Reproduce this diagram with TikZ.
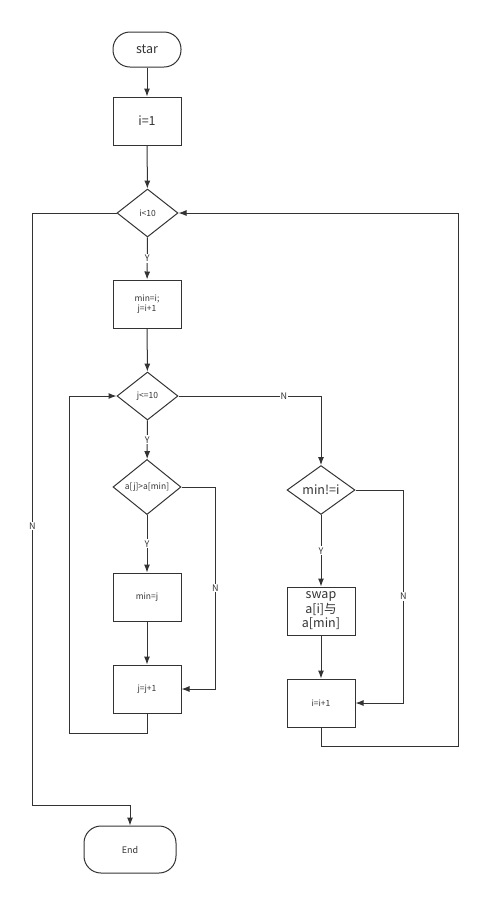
\documentclass[tikz,border=0pt]{standalone}
\usepackage{fontspec}
\setmainfont{Noto Sans CJK SC}
\usetikzlibrary{shapes.geometric,arrows.meta}
\definecolor{ln}{HTML}{333333}
\begin{document}
\begin{tikzpicture}[x=1pt,y=-1pt,line width=1pt,draw=ln,text=ln,
    box/.style={draw,minimum width=68pt,minimum height=48pt,inner sep=1pt,align=center,font=\fontsize{8.5}{10.5}\selectfont},
    term/.style={draw,rounded corners=17pt,minimum height=35pt,inner sep=1pt,font=\fontsize{9}{10}\selectfont},
    test/.style={draw,diamond,minimum width=61pt,minimum height=48pt,inner sep=0.5pt,font=\fontsize{8.5}{10}\selectfont},
    big/.style={font=\fontsize{12.5}{14}\selectfont},
    yn/.style={fill=white,inner sep=1pt,font=\fontsize{9}{9}\selectfont},
    arr/.style={-{Latex[length=8pt,width=6pt]}}]
    \useasboundingbox (0,0) rectangle (500,914);

    % main column
    \node[term,big,minimum width=68pt] (star) at (147,49.5) {star};
    \node[box,big] (init) at (147,121) {i=1};
    \node[test] (outer) at (147.5,213) {i<10};
    \node[box] (setmin) at (147,304) {min=i;\\j=i+1};
    \node[test] (inner) at (147.5,396) {j<=10};
    \node[test,minimum width=68pt] (cmp) at (147,487) {a[j]>a[min]};
    \node[box] (newmin) at (147,597) {min=j};
    \node[box] (incj) at (147,689) {j=j+1};

    % right column
    \node[test,big,minimum width=68pt] (minne) at (321,490) {min!=i};
    \node[box,inner sep=0pt,font=\fontsize{12.5}{14.5}\selectfont] (swap) at (321,611) {swap\\a[i]与\\a[min]};
    \node[box] (inci) at (321,703) {i=i+1};

    \node[term,minimum width=92pt,minimum height=47pt] (fin) at (130,849.5) {End};

    % straight arrows
    \draw[arr] (star) -- (init);
    \draw[arr] (init) -- (outer);
    \draw[arr] (outer) -- node[yn]{Y} (setmin);
    \draw[arr] (setmin) -- (inner);
    \draw[arr] (inner) -- node[yn]{Y} (cmp);
    \draw[arr] (cmp) -- node[yn]{Y} (newmin);
    \draw[arr] (newmin) -- (incj);
    \draw[arr] (minne) -- node[yn]{Y} (swap);
    \draw[arr] (swap) -- (inci);

    % branches and loops
    \draw[arr] (cmp.east) -- ++(34,0) |- node[pos=0.25,yn]{N} (incj.east);
    \draw[arr] (incj.south) -- ++(0,20) -| ([xshift=-47pt]inner.west) -- (inner.west);
    \draw[arr] (inner.east) -| node[pos=0.37,yn]{N} (minne.north);
    \draw[arr] (minne.east) -- ++(48,0) |- node[pos=0.25,yn]{N} (inci.east);
    \draw[arr] (inci.south) -- ++(0,19) -| ([xshift=280pt]outer.east) -- (outer.east);
    \draw[arr] (outer.west) -- ++(-84,0) |- node[pos=0.264,yn]{N} ([yshift=20pt]fin.north) -- (fin.north);
\end{tikzpicture}
\end{document}
